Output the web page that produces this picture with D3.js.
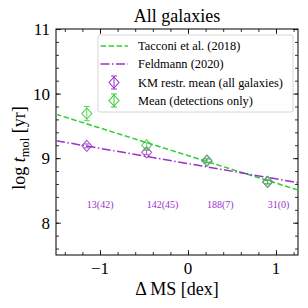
<!DOCTYPE html>
<html>
<head>
<meta charset="UTF-8">
<style>
  body { margin: 0; background: #fff; }
  svg { font-family: 'Liberation Serif', 'DejaVu Serif', serif; }
</style>
</head>
<body>
<svg id="chart" width="308" height="308"></svg>
<script src="https://d3js.org/d3.v7.min.js"></script>
<script>
// bins in delta MS
const binX = [-1.15, -0.47, 0.215, 0.905];
// KM restricted mean (all galaxies)
const kmMean = [9.19, 9.09, 8.96, 8.63];
const kmErr = [0.03, 0.035, 0.03, 0.03];
// mean of detections only
const detMean = [9.69, 9.20, 8.96, 8.635];
const detErr = [0.11, 0.045, 0.03, 0.03];
// N detections (N upper limits)
const counts = ["13(42)", "142(45)", "188(7)", "31(0)"];
// relations, read at the axis edges
const tacconiX = [-1.5, 1.25], tacconiY = [9.68, 8.506];
const feldX = [-1.5, 1.25], feldY = [9.27, 8.62];

const xTicks = [-1, 0, 1];
const yTicks = [8, 9, 10, 11];

const green = "#33cc33", purple = "#9932cc";

const svg = d3.select("#chart");
const m = {left: 56, right: 298, top: 29, bottom: 255};

const x = d3.scaleLinear().domain([-1.5, 1.25]).range([m.left, m.right]);
const y = d3.scaleLinear().domain([7.5, 11]).range([m.bottom, m.top]);

// ticks on all sides, pointing in
const xMinor = d3.range(-1.4, 1.25, 0.2).map(v => +v.toFixed(2));
const yMinor = d3.range(7.6, 11, 0.2).map(v => +v.toFixed(2));

function addAxis(axis, transform, major, minor) {
  const g = svg.append("g").attr("transform", transform);
  g.call(axis.tickValues(minor).tickSize(3).tickFormat(""));
  g.selectAll(".domain").remove();
  const g2 = svg.append("g").attr("transform", transform);
  g2.call(axis.tickValues(major).tickSize(5).tickFormat(d3.format("d")));
  g2.selectAll(".domain").remove();
  svg.selectAll("g line").attr("stroke", "#000").attr("stroke-width", 0.8);
  return g2;
}

const xb = addAxis(d3.axisTop(x), `translate(0,${m.bottom})`, xTicks, xMinor);
xb.selectAll("text").remove();
const xt = addAxis(d3.axisBottom(x), `translate(0,${m.top})`, xTicks, xMinor);
xt.selectAll("text").remove();
const yl = addAxis(d3.axisRight(y), `translate(${m.left},0)`, yTicks, yMinor);
yl.selectAll("text").remove();
const yr = addAxis(d3.axisLeft(y), `translate(${m.right},0)`, yTicks, yMinor);
yr.selectAll("text").remove();

// tick labels
svg.append("g").selectAll("text").data(xTicks).join("text")
  .attr("x", d => x(d)).attr("y", 274)
  .attr("text-anchor", "middle").attr("font-size", 17)
  .text(d => d < 0 ? "\u2212" + Math.abs(d) : d);
svg.append("g").selectAll("text").data(yTicks).join("text")
  .attr("x", 50).attr("y", d => y(d) + 6)
  .attr("text-anchor", "end").attr("font-size", 17)
  .text(d => d);

svg.append("rect")
  .attr("x", m.left).attr("y", m.top)
  .attr("width", m.right - m.left).attr("height", m.bottom - m.top)
  .attr("fill", "none").attr("stroke", "#000").attr("stroke-width", 1);

// clip for the relations
svg.append("clipPath").attr("id", "clip").append("rect")
  .attr("x", m.left).attr("y", m.top)
  .attr("width", m.right - m.left).attr("height", m.bottom - m.top);

const line = d3.line().x(d => x(d[0])).y(d => y(d[1]));
svg.append("path")
  .attr("d", line(d3.zip(tacconiX, tacconiY)))
  .attr("clip-path", "url(#clip)")
  .attr("fill", "none").attr("stroke", green).attr("stroke-width", 1.5)
  .attr("stroke-dasharray", "5.5,2.5");
svg.append("path")
  .attr("d", line(d3.zip(feldX, feldY)))
  .attr("clip-path", "url(#clip)")
  .attr("fill", "none").attr("stroke", purple).attr("stroke-width", 1.5)
  .attr("stroke-dasharray", "9,2.5,1.5,2.5");

const diamond = (cx, cy) => `M${cx},${cy - 5.5}L${cx + 5},${cy}L${cx},${cy + 5.5}L${cx - 5},${cy}Z`;

function errPoints(g, px, py, lo, hi, color) {
  g.append("line").attr("x1", px).attr("x2", px).attr("y1", lo).attr("y2", hi)
    .attr("stroke", color).attr("stroke-width", 1);
  [lo, hi].forEach(v => g.append("line")
    .attr("x1", px - 3).attr("x2", px + 3).attr("y1", v).attr("y2", v)
    .attr("stroke", color).attr("stroke-width", 1));
  g.append("path").attr("d", diamond(px, py))
    .attr("fill", "none").attr("stroke", color).attr("stroke-width", 1.1);
}

function drawSeries(vals, errs, color) {
  const g = svg.append("g").attr("opacity", 0.8);
  binX.forEach((bx, i) => {
    errPoints(g, x(bx), y(vals[i]), y(vals[i] - errs[i]), y(vals[i] + errs[i]), color);
  });
}
drawSeries(kmMean, kmErr, purple);
drawSeries(detMean, detErr, green);

// counts
svg.append("g").selectAll("text").data(counts).join("text")
  .attr("x", (d, i) => x(binX[i])).attr("y", y(8.23))
  .attr("font-size", 10).attr("fill", purple)
  .text(d => d);

// legend
const lg = svg.append("g");
lg.append("rect").attr("x", 98).attr("y", 35).attr("width", 195).attr("height", 77)
  .attr("rx", 2).attr("fill", "#fff").attr("fill-opacity", 0.85)
  .attr("stroke", "#cccccc").attr("stroke-width", 0.8);
const rows = [
  {label: "Tacconi et al. (2018)", kind: "dash", color: green, cy: 46},
  {label: "Feldmann (2020)", kind: "dashdot", color: purple, cy: 64},
  {label: "KM restr. mean (all galaxies)", kind: "err", color: purple, cy: 82.5},
  {label: "Mean (detections only)", kind: "err", color: green, cy: 100.5}
];
rows.forEach(r => {
  if (r.kind === "err") {
    errPoints(lg, 114, r.cy, r.cy - 6.5, r.cy + 6.5, r.color);
  } else {
    lg.append("line").attr("x1", 100.5).attr("x2", 128).attr("y1", r.cy).attr("y2", r.cy)
      .attr("stroke", r.color).attr("stroke-width", 1.5)
      .attr("stroke-dasharray", r.kind === "dash" ? "5.5,2.5" : "9,2.5,1.5,2.5");
  }
  lg.append("text").attr("x", 138).attr("y", r.cy + 4.3)
    .attr("font-size", 12.4).text(r.label);
});

// title and axis labels
svg.append("text").attr("x", (m.left + m.right) / 2).attr("y", 21.5)
  .attr("text-anchor", "middle").attr("font-size", 18).text("All galaxies");
svg.append("text").attr("x", (m.left + m.right) / 2).attr("y", 295)
  .attr("text-anchor", "middle").attr("font-size", 18).text("\u0394 MS [dex]");
const yt = svg.append("text").attr("transform", "translate(25,148) rotate(-90)")
  .attr("text-anchor", "middle").attr("font-size", 18);
yt.append("tspan").text("log ");
yt.append("tspan").attr("font-style", "italic").text("t");
yt.append("tspan").attr("font-size", 12.5).attr("dy", 4).text("mol");
yt.append("tspan").attr("dy", -4).text(" [yr]");
</script>
</body>
</html>
